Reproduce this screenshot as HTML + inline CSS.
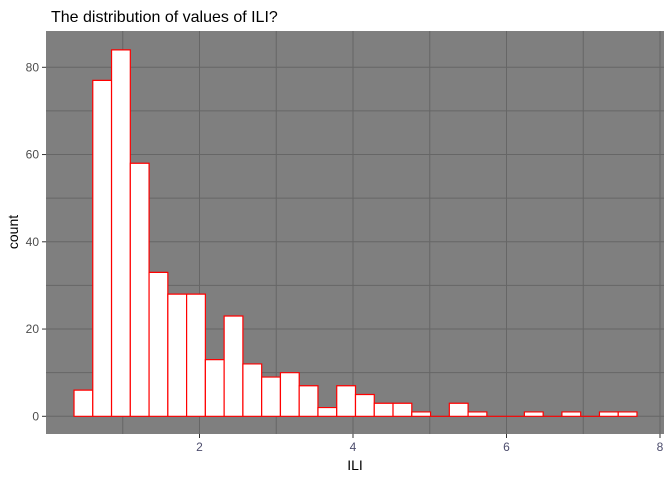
<!DOCTYPE html>
<html><head><meta charset="utf-8"><style>
body{margin:0;background:#fff;}
svg{display:block;font-family:"Liberation Sans",Arial,sans-serif;}
</style></head><body>
<svg id="chart" width="672" height="480" viewBox="0 0 672 480" xmlns="http://www.w3.org/2000/svg">
<rect x="46" y="31" width="618" height="403" fill="#7f7f7f"/>
<g id="grid"></g>
<g id="bars"></g>
<g id="axes"></g>
<text x="51" y="22" font-size="16" fill="#000">The distribution of values of ILI?</text>
<text x="355" y="470" font-size="14" text-anchor="middle" fill="#000">ILI</text>
<text transform="translate(18,232) rotate(-90)" font-size="14" text-anchor="middle" fill="#000">count</text>
</svg>
<script>
const binStart = 0.365;
const binWidth = 0.2445;
const counts = [6,77,84,58,33,28,28,13,23,12,9,10,7,2,7,5,3,3,1,0,3,1,0,0,1,0,1,0,1,1];
const xTicks = [2,4,6,8];
const xMinor = [1,3,5,7];
const yTicks = [0,20,40,60,80];
const yMinor = [10,30,50,70];
const NS="http://www.w3.org/2000/svg";
function sx(v){return 199.5+(v-2)*76.75;}
function sy(v){return 416.3-v*4.3625;}
function mk(t,a,p){const e=document.createElementNS(NS,t);for(const k in a)e.setAttribute(k,a[k]);p.appendChild(e);return e;}
const grid=document.getElementById('grid'),bars=document.getElementById('bars'),axes=document.getElementById('axes');
xMinor.concat(xTicks).forEach(v=>{const l=mk('line',{x1:sx(v),x2:sx(v),y1:31,y2:434,stroke:'#666','stroke-width':1},grid);

});
yMinor.concat(yTicks).forEach(v=>{const l=mk('line',{x1:46,x2:664,y1:sy(v),y2:sy(v),stroke:'#666','stroke-width':1},grid);

});
counts.forEach((c,i)=>{const x0=sx(binStart+i*binWidth),x1=sx(binStart+(i+1)*binWidth),y0=sy(0),y1=sy(c);
const r=mk('path',{d:`M${x0},${y0}L${x0},${y1}L${x1},${y1}L${x1},${y0}Z`,fill:'#fff',stroke:'#f00','stroke-width':1.2},bars);

});
xTicks.forEach(v=>{mk('line',{x1:sx(v),x2:sx(v),y1:434,y2:438,stroke:'#333'},axes);
const t=mk('text',{x:sx(v),y:451,'font-size':12,'text-anchor':'middle',fill:'#4d4d6d'},axes);t.textContent=v;

});
yTicks.forEach(v=>{mk('line',{x1:42,x2:46,y1:sy(v),y2:sy(v),stroke:'#333'},axes);
const t=mk('text',{x:39,y:sy(v)+4,'font-size':12,'text-anchor':'end',fill:'#4d4d4d'},axes);t.textContent=v;

});
</script>
</body></html>
